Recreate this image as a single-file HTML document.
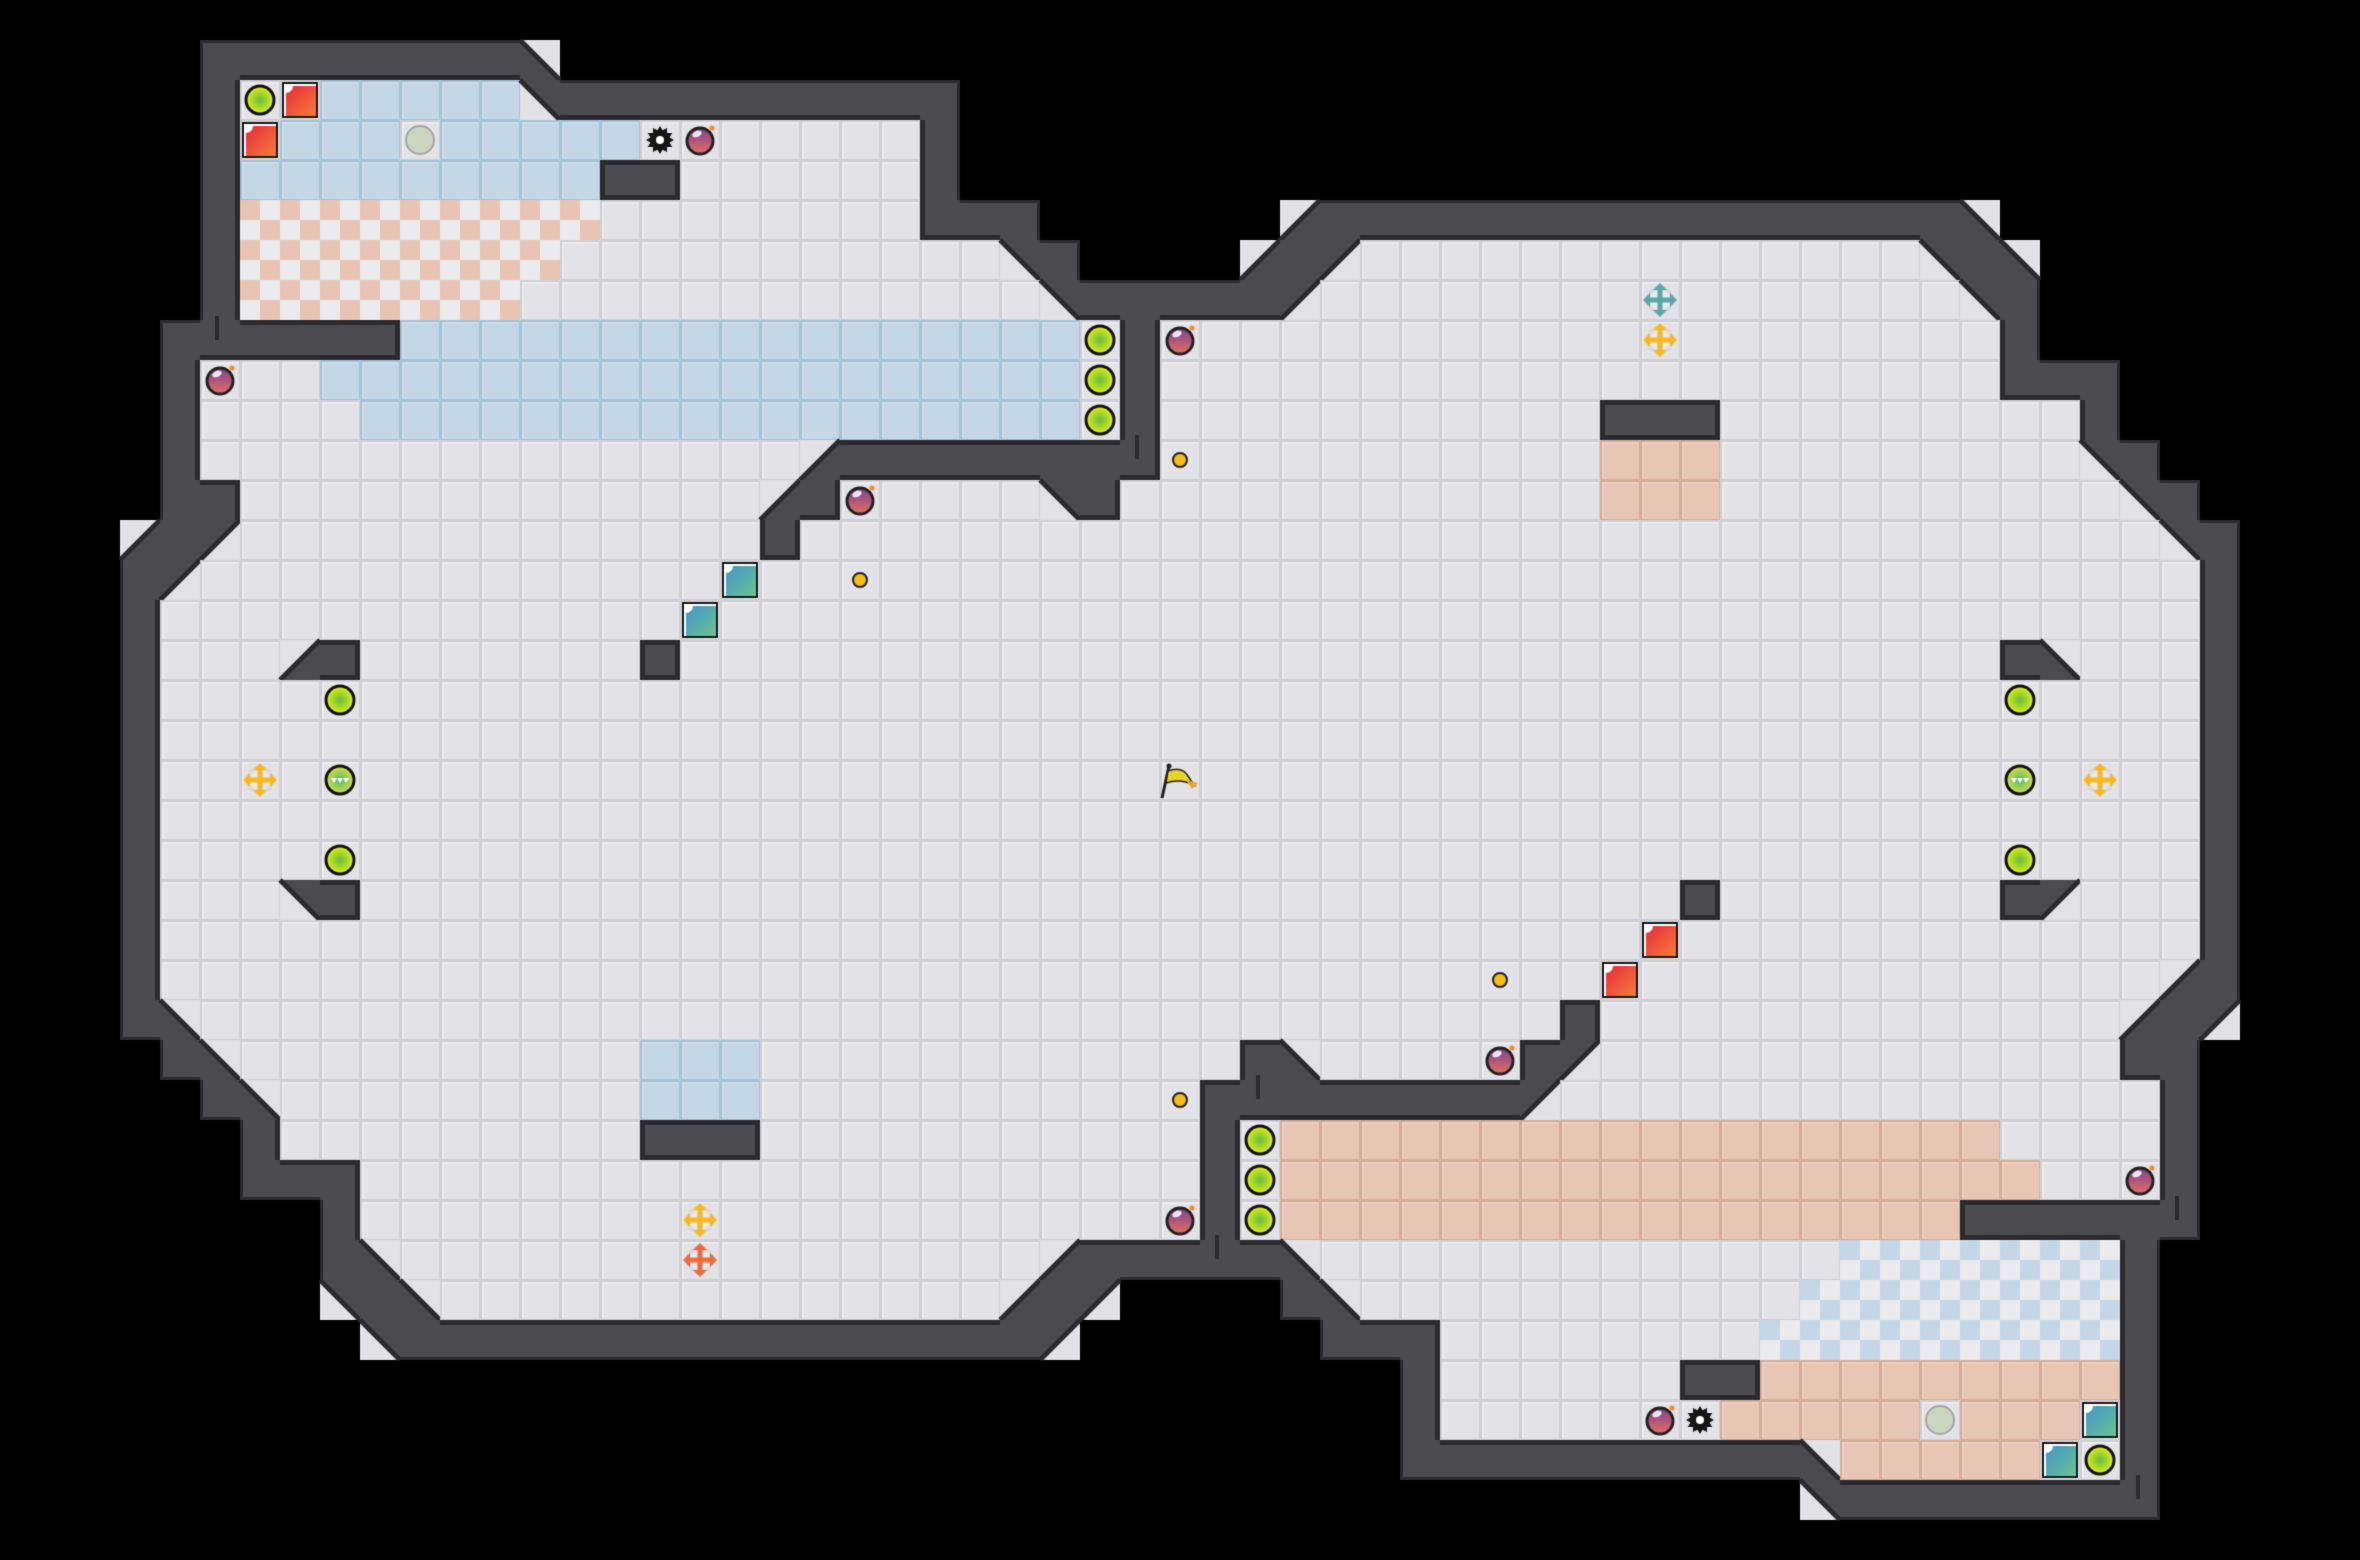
<!DOCTYPE html>
<html><head><meta charset="utf-8">
<style>html,body{margin:0;padding:0;background:#000;overflow:hidden}canvas{display:block}</style>
</head><body>
<canvas id="c" width="2360" height="1560"></canvas>
<script>
const W=59,H=39,S=40;
const g=[];for(let r=0;r<H;r++)g.push(Array(W).fill(' '));
function s(r,a,b,ch){if(b===undefined)b=a;for(let c=a;c<=b;c++)g[r][c]=ch;}
// top half
s(1,5,12,'W');s(1,13,13,'z');
s(2,5,5,'W');s(2,6,7,'f');s(2,8,12,'B');s(2,13,13,'e');s(2,14,23,'W');
s(3,5,5,'W');s(3,6,6,'f');s(3,7,9,'B');s(3,10,10,'f');s(3,11,15,'B');s(3,16,22,'f');s(3,23,23,'W');
s(4,5,5,'W');s(4,6,14,'B');s(4,15,16,'W');s(4,17,22,'f');s(4,23,23,'W');
s(5,5,5,'W');s(5,6,14,'C');s(5,15,22,'f');s(5,23,25,'W');s(5,32,32,'x');s(5,33,48,'W');s(5,49,49,'z');
s(6,5,5,'W');s(6,6,13,'C');s(6,14,24,'f');s(6,25,25,'e');s(6,26,26,'W');s(6,31,31,'x');s(6,32,32,'W');s(6,33,33,'q');s(6,34,47,'f');s(6,48,48,'e');s(6,49,49,'W');s(6,50,50,'z');
s(7,5,5,'W');s(7,6,12,'C');s(7,13,25,'f');s(7,26,26,'e');s(7,27,31,'W');s(7,32,32,'q');s(7,33,48,'f');s(7,49,49,'e');s(7,50,50,'W');
s(8,4,9,'W');s(8,10,26,'B');s(8,27,27,'f');s(8,28,28,'W');s(8,29,49,'f');s(8,50,50,'W');
s(9,4,4,'W');s(9,5,7,'f');s(9,8,26,'B');s(9,27,27,'f');s(9,28,28,'W');s(9,29,49,'f');s(9,50,52,'W');
s(10,4,4,'W');s(10,5,8,'f');s(10,9,26,'B');s(10,27,27,'f');s(10,28,28,'W');s(10,29,51,'f');s(10,40,42,'W');s(10,52,52,'W');
s(11,4,4,'W');s(11,5,19,'f');s(11,20,20,'x');s(11,21,28,'W');s(11,29,51,'f');s(11,40,42,'P');s(11,52,52,'e');s(11,53,53,'W');
s(12,4,5,'W');s(12,6,18,'f');s(12,19,19,'x');s(12,20,20,'W');s(12,21,25,'f');s(12,26,26,'e');s(12,27,27,'W');s(12,28,52,'f');s(12,40,42,'P');s(12,53,53,'e');s(12,54,54,'W');
s(13,3,3,'x');s(13,4,4,'W');s(13,5,5,'q');s(13,6,18,'f');s(13,19,19,'W');s(13,20,53,'f');s(13,54,54,'e');s(13,55,55,'W');
s(14,3,3,'W');s(14,4,4,'q');s(14,5,54,'f');s(14,55,55,'W');
s(15,3,3,'W');s(15,4,54,'f');s(15,55,55,'W');
s(16,3,3,'W');s(16,4,54,'f');s(16,7,7,'x');s(16,8,8,'W');s(16,16,16,'W');s(16,50,50,'W');s(16,51,51,'z');s(16,55,55,'W');
for(const r of [17,18,19]){s(r,3,3,'W');s(r,4,54,'f');s(r,55,55,'W');}
const rm={q:'x',x:'q',e:'z',z:'e',B:'P',P:'B',C:'K',K:'C'};
for(let r=20;r<H;r++)for(let c=0;c<W;c++){const v=g[38-r][58-c];g[r][c]=rm[v]||v;}
// items
let items=[['yb',6,2],['red',7,2],['red',6,3],['gray',10,3],['gear',16,3],['bomb',17,3],
['yb',27,8],['yb',27,9],['yb',27,10],['bomb',29,8],['bomb',5,9],['coin',29,11],['bomb',21,12],['coin',21,14],
['teal',18,14],['teal',17,15],['yb',8,17],['crossY',6,19],['green',8,19],['crossT',41,7],['crossY',41,8],['yb',50,17]];
const im={red:'teal',teal:'red',crossT:'crossO'};
const all=items.slice();
for(const [t,c,r] of items){all.push([im[t]||t,58-c,38-r]);}
all.push(['flag',29,19]);

const cv=document.getElementById('c'),x=cv.getContext('2d');
x.fillStyle='#000';x.fillRect(0,0,2360,1560);
const isF=v=>'fBPCK'.includes(v)&&v!==' ';
function tile(px,py,base,inner,hi){x.fillStyle=base;x.fillRect(px,py,S,S);x.fillStyle=inner;x.fillRect(px+2,py+2,S-3,S-3);x.fillStyle=hi;x.fillRect(px+2,py+2,S-4,2);x.fillRect(px+2,py+2,2,S-4);}
const WALL='#4b4b50',DARK='#2b2b2f',LIGHT='#e3e3e7';
for(let r=0;r<H;r++)for(let c=0;c<W;c++){
 const v=g[r][c],px=c*S,py=r*S;
 if(v==='f')tile(px,py,'#cfcfd5','#e3e3e7','#ebebee');
 else if(v==='B')tile(px,py,'#a8c2d6','#c3d7e6','#cbdeeb');
 else if(v==='P')tile(px,py,'#d6ad9a','#e8c6b6','#edd0c2');
 else if(v==='C'||v==='K'){const a=v==='C'?'#e8c4b3':'#c3d7e6';x.fillStyle='#ebebed';x.fillRect(px,py,S,S);x.fillStyle=a;x.fillRect(px,py,20,20);x.fillRect(px+20,py+20,20,20);}
 else if(v==='W'){x.fillStyle=WALL;x.fillRect(px,py,S,S);}
 else if('qezx'.includes(v)){
  x.fillStyle=LIGHT;x.fillRect(px,py,S,S);
  const TL=[px,py],TR=[px+S,py],BL=[px,py+S],BR=[px+S,py+S];
  const tri={q:[TL,TR,BL],e:[TL,TR,BR],z:[TL,BL,BR],x:[TR,BR,BL]}[v];
  x.fillStyle=WALL;x.beginPath();x.moveTo(...tri[0]);x.lineTo(...tri[1]);x.lineTo(...tri[2]);x.closePath();x.fill();
  x.strokeStyle=DARK;x.lineWidth=5;x.beginPath();
  if(v==='q'||v==='x'){x.moveTo(px+S,py);x.lineTo(px,py+S);}else{x.moveTo(px,py);x.lineTo(px+S,py+S);}
  x.stroke();
 }
}
// wall edges
for(let r=0;r<H;r++)for(let c=0;c<W;c++){
 if(g[r][c]!=='W')continue;const px=c*S,py=r*S;
 const n=(rr,cc)=>(rr<0||cc<0||rr>=H||cc>=W)?' ':g[rr][cc];
 const e=[[n(r-1,c),px,py,S,0],[n(r+1,c),px,py+S,S,0],[n(r,c-1),px,py,0,S],[n(r,c+1),px+S,py,0,S]];
 for(const [v,ex,ey,w,h] of e){
  if(v==='W'||'qezx'.includes(v))continue;
  const t=isF(v)?5:3;x.fillStyle=DARK;
  if(w){x.fillRect(ex,ey===py?ey:ey-t,w,t);}else{x.fillRect(ex===px?ex:ex-t,ey,t,h);}
 }
}
// ticks
x.fillStyle='#2b2b2f';
for(const [tx,ty] of [[217,328],[1137,447],[1258,1087],[1217,1247],[2177,1208],[2138,1487]])x.fillRect(tx-2,ty-12,4,24);

function circ(cx,cy,r){x.beginPath();x.arc(cx,cy,r,0,Math.PI*2);}
function draw(t,c,r){
 const cx=c*S+20,cy=r*S+20;
 if(t==='yb'||t==='green'){
  const gr=x.createRadialGradient(cx,cy,1,cx,cy,14);
  if(t==='yb'){gr.addColorStop(0,'#6cc040');gr.addColorStop(1,'#e6ee10');}
  else{gr.addColorStop(0,'#5cbc6a');gr.addColorStop(1,'#d8e040');}
  circ(cx,cy,14);x.fillStyle=gr;x.fill();x.lineWidth=3;x.strokeStyle='#111';x.stroke();
  if(t==='green'){x.fillStyle='#fff';for(let i=-1;i<=1;i++){x.beginPath();x.moveTo(cx+i*6-3,cy-2);x.lineTo(cx+i*6+3,cy-2);x.lineTo(cx+i*6,cy+3);x.fill();}}
 } else if(t==='red'||t==='teal'){
  const gr=x.createLinearGradient(cx-18,cy-18,cx+18,cy+18);
  if(t==='red'){gr.addColorStop(0,'#e8203a');gr.addColorStop(1,'#f6803a');}
  else{gr.addColorStop(0,'#3e8ed6');gr.addColorStop(1,'#6cc88a');}
  x.fillStyle='#1a1a1a';x.fillRect(cx-18,cy-18,36,36);x.fillStyle='#fff';x.fillRect(cx-16,cy-16,32,32);
  x.fillStyle=gr;x.fillRect(cx-14,cy-14,30,30);
  x.fillStyle='#fff';x.beginPath();x.moveTo(cx-14,cy-14);x.arc(cx-14,cy-14,7,0,Math.PI/2);x.fill();
 } else if(t==='gray'){
  circ(cx,cy,14);x.fillStyle='#cdd6c0';x.fill();x.lineWidth=2;x.strokeStyle='#a6a6a6';x.stroke();
 } else if(t==='gear'){
  x.fillStyle='#151515';x.beginPath();
  for(let i=0;i<24;i++){const a=i*Math.PI/12,rr=i%2?10:14;x.lineTo(cx+rr*Math.cos(a),cy+rr*Math.sin(a));}
  x.closePath();x.fill();circ(cx,cy,4);x.fillStyle='#fff';x.fill();
 } else if(t==='bomb'){
  const gr=x.createLinearGradient(cx,cy-14,cx,cy+14);gr.addColorStop(0,'#7e3c96');gr.addColorStop(1,'#e07060');
  circ(cx,cy+1,13);x.fillStyle=gr;x.fill();x.lineWidth=3;x.strokeStyle='#222';x.stroke();
  x.fillStyle='rgba(255,255,255,0.85)';x.beginPath();x.ellipse(cx-3,cy-6,5,3,-0.4,0,Math.PI*2);x.fill();
  circ(cx+12,cy-12,2.5);x.fillStyle='#f08a20';x.fill();
 } else if(t==='coin'){
  circ(cx,cy,7);x.fillStyle='#f6be10';x.fill();x.lineWidth=2;x.strokeStyle='#222';x.stroke();
 } else if(t.startsWith('cross')){
  const col={crossY:'#f7b821',crossT:'#5aa8a8',crossO:'#ee6a3a'}[t];
  circ(cx,cy,14);x.fillStyle='#dadade';x.fill();circ(cx,cy,10);x.fillStyle='#ececee';x.fill();
  x.strokeStyle=col;x.fillStyle=col;x.lineWidth=5;
  x.beginPath();x.moveTo(cx-11,cy);x.lineTo(cx+11,cy);x.moveTo(cx,cy-11);x.lineTo(cx,cy+11);x.stroke();
  for(const [dx,dy] of [[1,0],[-1,0],[0,1],[0,-1]]){x.beginPath();
   x.moveTo(cx+dx*17,cy+dy*17);x.lineTo(cx+dx*10-dy*7,cy+dy*10-dx*7);x.lineTo(cx+dx*10+dy*7,cy+dy*10+dx*7);x.fill();}
 } else if(t==='flag'){
  x.strokeStyle='#222';x.lineWidth=3;x.beginPath();x.moveTo(1162,798);x.lineTo(1169,766);x.stroke();
  x.fillStyle='#e8d424';x.beginPath();x.moveTo(1168,771);x.quadraticCurveTo(1182,766,1188,776);x.lineTo(1194,785);x.quadraticCurveTo(1180,778,1166,783);x.closePath();x.fill();
  x.lineWidth=1.5;x.stroke();
  x.fillStyle='#f0a030';x.beginPath();x.moveTo(1186,780);x.lineTo(1198,783);x.lineTo(1192,789);x.closePath();x.fill();
  circ(1169,766,2.5);x.fillStyle='#222';x.fill();
 }
}
for(const it of all)draw(...it);
</script>
</body></html>
